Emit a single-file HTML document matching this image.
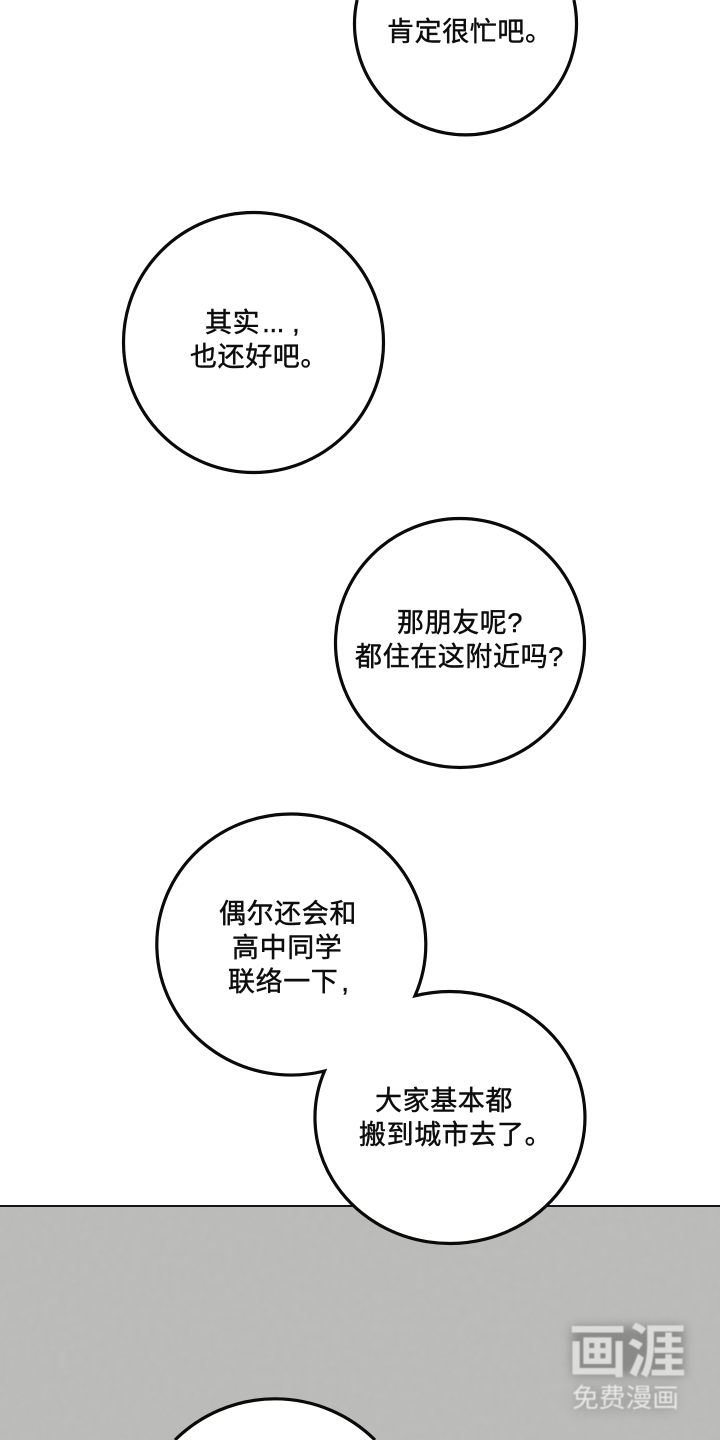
<!DOCTYPE html>
<html><head><meta charset="utf-8">
<style>
html,body{margin:0;padding:0;background:#fff;width:720px;height:1440px;overflow:hidden}
svg{display:block;overflow:hidden}
.t{font-family:"Liberation Sans","Noto Sans CJK SC",sans-serif;font-size:27px;letter-spacing:.6px;fill:#0c0c0c;stroke:#0c0c0c;stroke-width:.45}
.b{fill:#fff;stroke:#0a0a0a;stroke-width:3.2}
</style></head><body>
<svg width="720" height="1440" viewBox="0 0 720 1440" xmlns="http://www.w3.org/2000/svg">
<defs>
<filter id="n" x="0" y="0" width="100%" height="100%">
<feTurbulence type="fractalNoise" baseFrequency="0.12" numOctaves="4" seed="4"/>
<feColorMatrix type="matrix" values="0 0 0 0 0.4  0 0 0 0 0.4  0 0 0 0 0.39  0.5 0 0 0 -0.17"/>
</filter>
<filter id="bl" x="-30%" y="-30%" width="160%" height="160%"><feGaussianBlur stdDeviation="5"/></filter>
<filter id="s" x="-10%" y="-10%" width="120%" height="120%"><feGaussianBlur stdDeviation="0.5"/></filter>
</defs>
<rect x="0" y="1206" width="720" height="234" fill="#bcbcba"/>
<rect x="0" y="1206" width="720" height="234" filter="url(#n)" opacity=".5"/>
<line x1="0" y1="1206" x2="720" y2="1206" stroke="#14141a" stroke-width="2"/>

<path class="b" d="M357.1 0 A111 111 0 1 0 573.9 0"/>
<circle class="b" cx="253.5" cy="342.5" r="130"/>
<circle class="b" cx="460" cy="643" r="124.5"/>
<path class="b" stroke-linejoin="miter" d="M415 995.8 A134.5 130.5 0 1 0 324.5 1071 A135 126 0 1 0 415 995.8 Z"/>
<path class="b" d="M175 1440 A142 142 0 0 1 375 1440"/>

<text class="t" x="387" y="41">肯定很忙吧。</text>
<text class="t" x="205" y="332">其实<tspan dx="2" letter-spacing="-.2">...</tspan><tspan dx="8">,</tspan></text>
<text class="t" x="190" y="366">也还好吧。</text>
<text class="t" x="397" y="632">那朋友呢?</text>
<text class="t" x="355" y="666">都住在这附近吗?</text>
<text class="t" x="219" y="923">偶尔还会和</text>
<text class="t" x="232" y="957">高中同学</text>
<text class="t" x="228" y="991">联络一下<tspan dx="3">,</tspan></text>
<text class="t" x="375" y="1110">大家基本都</text>
<text class="t" x="359" y="1144">搬到城市去了。</text>

<rect x="572" y="1326" width="112" height="50" fill="#6a6a6a" opacity=".6" filter="url(#bl)"/>
<rect x="574" y="1386" width="102" height="26" fill="#888" opacity=".35" filter="url(#bl)"/>
<g filter="url(#s)">
<text x="568" y="1372" font-family="'Noto Sans CJK SC',sans-serif" font-weight="700" font-size="58" fill="#dcdcda" textLength="118" lengthAdjust="spacingAndGlyphs">画涯</text>
<text x="572" y="1407" font-family="'Noto Sans CJK SC',sans-serif" font-size="26" fill="#e8e8e6" textLength="107" lengthAdjust="spacingAndGlyphs">免费漫画</text>
</g>
</svg>
</body></html>
